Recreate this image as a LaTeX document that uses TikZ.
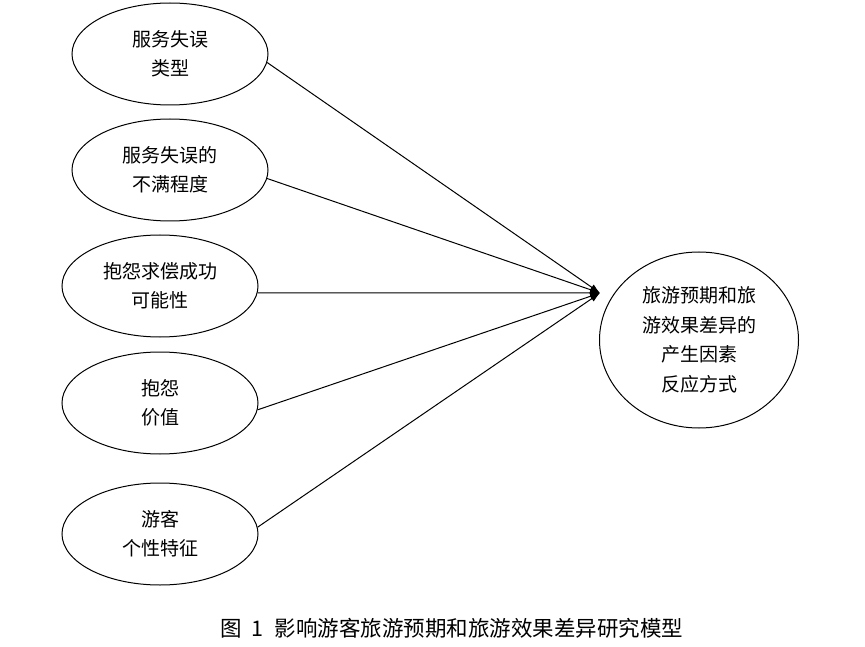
\documentclass[tikz,border=0pt]{standalone}
\usepackage{fontspec}
\setmainfont{Noto Sans CJK SC}
\usetikzlibrary{shapes.geometric,arrows.meta}

\begin{document}
\begin{tikzpicture}[x=1pt, y=-1pt, >={Latex[length=10pt,width=7pt]}]

    % Parameters
    \def\W{196} % width of the left ellipses
    \def\H{102} % height of the left ellipses

    % Styles
    \tikzset{
        factor/.style={ellipse, draw, line width=1pt, inner sep=0pt,
            minimum width=\W pt, minimum height=\H pt, align=center,
            font=\fontsize{19}{29}\selectfont},
        result/.style={ellipse, draw, line width=1pt, inner sep=0pt,
            minimum width=199pt, minimum height=176pt, align=center,
            font=\fontsize{19}{29.5}\selectfont},
        link/.style={->, line width=1pt}
    }

    % Page size
    \useasboundingbox (0,0) rectangle (865,647);

    % Left ellipses (factors)
    \node[factor] (type)  at (170,54)  {服务失误\\类型};
    \node[factor] (dissat) at (170,170) {服务失误的\\不满程度};
    \node[factor] (succ)  at (160,286) {抱怨求偿成功\\可能性};
    \node[factor] (value) at (160,403) {抱怨\\价值};
    \node[factor] (tourist) at (160,534) {游客\\个性特征};

    % Right ellipse (result)
    \node[result] (gap) at (699,340) {旅游预期和旅\\游效果差异的\\产生因素\\反应方式};

    % Common arrow tip
    \coordinate (tip) at (600,293);

    % Connectors
    \draw[link] (type.-5) -- (tip);
    \draw[link] (dissat.-5) -- (tip);
    \draw[link] (succ.-4) -- (tip);
    \draw[link] (value.-4) -- (tip);
    \draw[link] (tourist.4) -- (tip);

    % Caption
    \node[font=\fontsize{21.5}{24}\selectfont] (caption) at (452,628)
        {图\hspace{0.45em}1\hspace{0.5em}影响游客旅游预期和旅游效果差异研究模型};

\end{tikzpicture}
\end{document}
